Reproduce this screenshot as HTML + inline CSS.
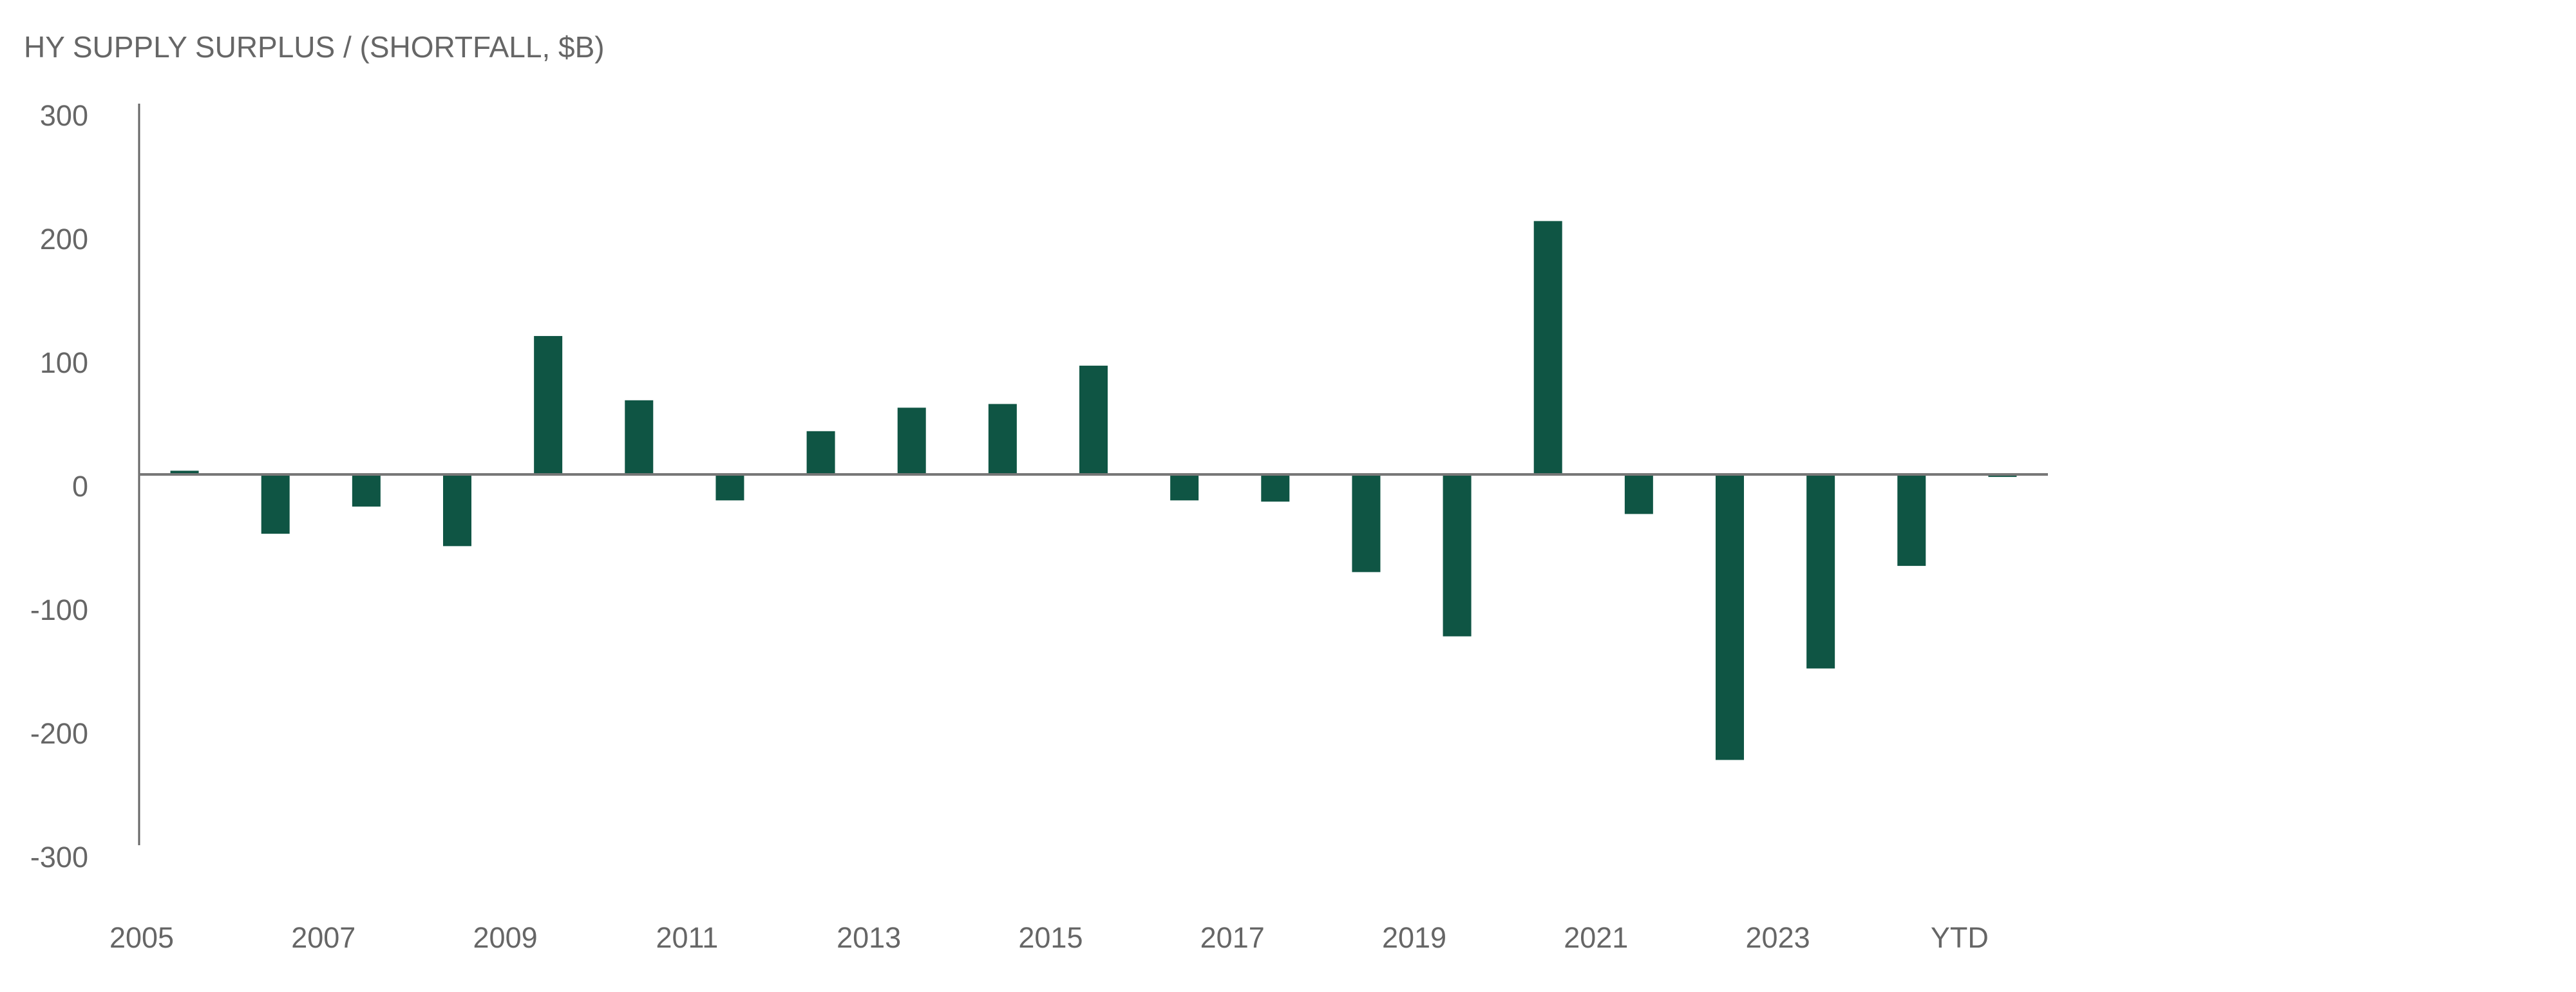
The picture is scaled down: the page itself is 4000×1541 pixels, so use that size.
<!DOCTYPE html>
<html><head><meta charset="utf-8"><style>
html,body{margin:0;padding:0;background:#fff;}
svg{display:block;font-family:"Liberation Sans",Arial,sans-serif;}
</style></head><body>
<svg id="chart" width="4000" height="1541" viewBox="0 0 4000 1541" xmlns="http://www.w3.org/2000/svg">
<text x="37" y="89" font-size="46" fill="#666">HY SUPPLY SURPLUS / (SHORTFALL, $B)</text>
<g id="plot"></g>
</svg>
<script>
const categories = ["2005","2006","2007","2008","2009","2010","2011","2012","2013","2014","2015","2016","2017","2018","2019","2020","2021","2022","2023","2024","YTD"];
const values = [3,-48,-26,-58,112,60,-21,35,54,57,88,-21,-22,-79,-131,205,-32,-231,-157,-74,-2];
const xLabels = ["2005","","2007","","2009","","2011","","2013","","2015","","2017","","2019","","2021","","2023","","YTD"];
const yTicks = [300,200,100,0,-100,-200,-300];

const NS = "http://www.w3.org/2000/svg";
const plot = document.getElementById("plot");
const x0 = 216, x1 = 3180, zeroY = 737, pxPerUnit = 1.92;
const step = (x1 - x0) / categories.length;
const barW = 44;
function yScale(v){ return zeroY - v * pxPerUnit; }
function xStart(i){ return x0 + i * step; }
function mk(tag, attrs){ const e = document.createElementNS(NS, tag); for (const k in attrs) e.setAttribute(k, attrs[k]); plot.appendChild(e); return e; }

yTicks.forEach(t => {
  const e = mk("text", {x: 137, y: yScale(t) + 34, "font-size": 45, fill: "#666", "text-anchor": "end"});
  e.textContent = t;
  
  
});

values.forEach((v, i) => {
  const cx = xStart(i) + step / 2;
  const top = Math.min(yScale(v), zeroY), h = Math.abs(yScale(v) - zeroY);
  const r = mk("rect", {x: cx - barW / 2, y: top, width: barW, height: Math.max(h, 1), fill: "#0f5544"});
  
  
});

xLabels.forEach((l, i) => {
  if (!l) return;
  const e = mk("text", {x: xStart(i) + 4, y: 1472, "font-size": 45, fill: "#666", "text-anchor": "middle"});
  e.textContent = l;
  
  
});

const ya = mk("line", {x1: x0, y1: yScale(300), x2: x0, y2: yScale(-300), stroke: "#666", "stroke-width": 3});


const za = mk("line", {x1: x0, y1: zeroY, x2: x1, y2: zeroY, stroke: "#777", "stroke-width": 4});


</script>
</body></html>
